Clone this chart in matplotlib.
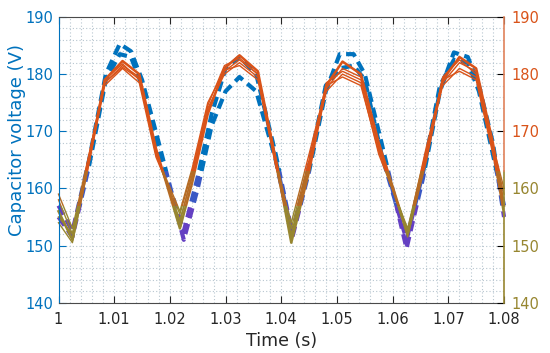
import matplotlib
matplotlib.use('Agg')
from matplotlib import pyplot as plt
from matplotlib.patches import Rectangle
from matplotlib.ticker import MultipleLocator

# sample times (s) of the solid traces
solid_t = [1.000, 1.0025, 1.0055, 1.0083, 1.0115, 1.0145, 1.0175, 1.0218, 1.0240,
           1.0268, 1.0298, 1.0325, 1.0358, 1.0390, 1.0418, 1.0450, 1.0481, 1.0510,
           1.0543, 1.0575, 1.0627, 1.0660, 1.0690, 1.0720, 1.0750, 1.0780, 1.0800]
solid_1 = [156, 151, 165, 179, 182.3, 180, 167, 153, 161, 173, 181, 183.3, 180.5, 165,
           150.5, 163, 178, 182.2, 180, 168, 152, 165, 179, 183, 181, 168, 157]
solid_2 = [158, 152, 166, 178.5, 181.5, 179.5, 166, 154.5, 162, 173.5, 180.5, 182.5, 180,
           164, 151.5, 164, 177.5, 181, 179.5, 167, 152.5, 166, 178.5, 182, 180.5, 167, 159]
solid_3 = [154, 150.5, 164.5, 178, 181, 178.5, 165.5, 155.5, 163, 174, 180, 182, 179.5,
           164.5, 152, 164.5, 177, 180, 178.5, 166, 153, 166.5, 178, 181, 179.5, 166.5, 155]
solid_4 = [159, 153, 166, 179, 181.8, 179, 166.5, 154, 162.5, 174.5, 181.5, 182.8, 180,
           165.5, 153, 165, 178.5, 180.5, 179, 167.5, 151.5, 165.5, 179.5, 182.5, 180, 167.5, 160]
solid_5 = [155, 152, 165.5, 178.5, 181.2, 179.2, 166, 156, 163.5, 175, 180.7, 181.5, 179,
           164, 154, 166, 178, 179.5, 178, 166.5, 152.5, 167, 179, 180.5, 179, 166, 156]

# sample times (s) of the dashed traces
dashed_t = [1.000, 1.0025, 1.0055, 1.0085, 1.0110, 1.0130, 1.0150, 1.0180, 1.0225, 1.0250,
            1.0275, 1.0300, 1.0325, 1.0355, 1.0390, 1.0420, 1.0450, 1.0480, 1.0505, 1.0530,
            1.0550, 1.0580, 1.0625, 1.0655, 1.0685, 1.0710, 1.0735, 1.0755, 1.0780, 1.0800]
dashed_a = [157, 152.5, 165, 180, 185.3, 184, 179, 168, 151, 160, 171, 177, 179.5, 177, 165,
            151.5, 163, 177, 183.5, 183.5, 180, 168, 149.5, 162, 177, 183.8, 183, 178, 168, 155]
dashed_b = [155, 151.5, 164, 179, 183.5, 183, 178, 166, 152.5, 162, 173, 181, 183, 180, 166,
            152, 164, 178, 181, 181.5, 179, 166, 151, 163, 178, 182.5, 182, 177, 166, 157]

x_ticks = [1, 1.01, 1.02, 1.03, 1.04, 1.05, 1.06, 1.07, 1.08]
x_tick_labels = ['1', '1.01', '1.02', '1.03', '1.04', '1.05', '1.06', '1.07', '1.08']
y_ticks = [140, 150, 160, 170, 180, 190]

BLUE = '#0072BD'
ORANGE = '#D95319'
OLIVE = '#978630'
# colour bands: (low, high, solid colour, dashed colour)
bands = [(130, 157, OLIVE, '#6440C2'),
         (157, 163, '#B56B24', '#3A58C4'),
         (163, 200, ORANGE, BLUE)]

plt.rcParams['font.family'] = 'DejaVu Sans'
fig = plt.figure(figsize=(5.5, 3.53), dpi=100)
ax = fig.add_axes([58.5 / 550, 1 - 302.7 / 353, 445.5 / 550, 285.7 / 353])


def banded_plot(t, y, lw, dashed):
    for low, high, solid_color, dashed_color in bands:
        clip = Rectangle((0.99, low), 0.2, high - low, transform=ax.transData)
        if dashed:
            line, = ax.plot(t, y, color=dashed_color, lw=lw, dashes=(2.5, 1.4))
        else:
            line, = ax.plot(t, y, color=solid_color, lw=lw)
        line.set_clip_path(clip)


for series in [dashed_a, dashed_b]:
    banded_plot(dashed_t, series, 3.0, True)
for series, lw in [(solid_2, 1.0), (solid_3, 1.0), (solid_4, 1.0), (solid_5, 1.0), (solid_1, 1.8)]:
    banded_plot(solid_t, series, lw, False)

ax.set_xlim(1, 1.08)
ax.set_ylim(140, 190)
ax.set_xticks(x_ticks)
ax.set_xticklabels(x_tick_labels)
ax.set_yticks(y_ticks)
ax.xaxis.set_minor_locator(MultipleLocator(0.002))
ax.yaxis.set_minor_locator(MultipleLocator(2))
ax.grid(which='both', color='#b8c6d0', linestyle=(0, (1, 2)), lw=0.8)
ax.set_axisbelow(True)
ax.tick_params(which='both', direction='in', top=True, labelsize=10.5)
ax.tick_params(which='minor', length=0)
ax.tick_params(axis='x', colors='#262626', length=5, pad=7)
ax.tick_params(axis='y', colors=BLUE, length=5)
for side in ['top', 'bottom']:
    ax.spines[side].set_color('#4a4a4a')
ax.spines['left'].set_color(BLUE)
ax.spines['right'].set_visible(False)

ax2 = ax.twinx()
ax2.set_ylim(140, 190)
ax2.set_yticks(y_ticks)
ax2.tick_params(direction='in', length=5, labelsize=10.5, pad=5)
for spine in ax2.spines.values():
    spine.set_visible(False)
for label, val in zip(ax2.get_yticklabels(), y_ticks):
    label.set_color(ORANGE if val > 165 else OLIVE)
for tick, val in zip(ax2.yaxis.get_major_ticks(), y_ticks):
    tick.tick2line.set_color(ORANGE if val > 165 else OLIVE)
ax2.plot([1, 1], [0, 0.46], color=OLIVE, lw=1.2, transform=ax2.transAxes, clip_on=False)
ax2.plot([1, 1], [0.46, 1], color='#E0825A', lw=1.2, transform=ax2.transAxes, clip_on=False)

ax.set_xlabel('Time (s)', fontsize=12.5, color='#262626')
ax.xaxis.set_label_coords(0.5, -0.103)
ax.set_ylabel('Capacitor voltage (V)', fontsize=13, color=BLUE)
ax.yaxis.set_label_coords(-0.073, 0.57)

fig.savefig('out.png', dpi=100)
